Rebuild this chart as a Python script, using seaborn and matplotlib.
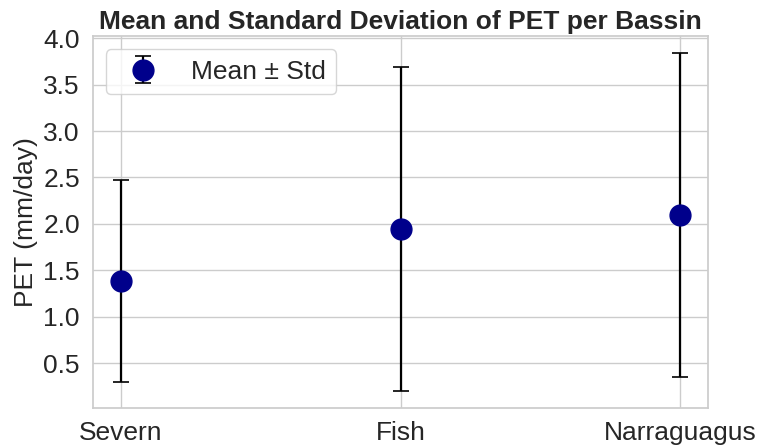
import matplotlib
matplotlib.use("Agg")
import matplotlib.pyplot as plt
import seaborn as sns
import pandas as pd

bassins = ["Severn", "Fish", "Narraguagus"]
pet_mean = [1.385, 1.945, 2.095]
pet_std = [1.085, 1.745, 1.745]

df = pd.DataFrame({"Bassin": bassins, "Mean": pet_mean, "Std": pet_std})

sns.set_theme(style="whitegrid")
plt.rcParams['font.family'] = ['Liberation Sans', 'DejaVu Sans']

fig, ax = plt.subplots(figsize=(7.6, 4.46), dpi=100)
fig.subplots_adjust(left=0.1224, right=0.9316, top=0.919, bottom=0.0852)

ax.errorbar(df["Bassin"], df["Mean"], yerr=df["Std"], fmt='o', color='darkblue',
            ecolor='black', elinewidth=1.6, capsize=6, capthick=1.2,
            markersize=15, label="Mean ± Std")

ax.set_title("Mean and Standard Deviation of PET per Bassin", fontsize=19,
             fontweight='bold', color='#262626', pad=5)
ax.set_ylabel("PET (mm/day)", fontsize=19, color='#262626')
ax.set_yticks([0.5, 1.0, 1.5, 2.0, 2.5, 3.0, 3.5, 4.0])
ax.tick_params(axis='both', labelsize=19, colors='#262626')
ax.legend(loc='upper left', fontsize=19, borderpad=0.4)

fig.savefig("out.png", dpi=100)
